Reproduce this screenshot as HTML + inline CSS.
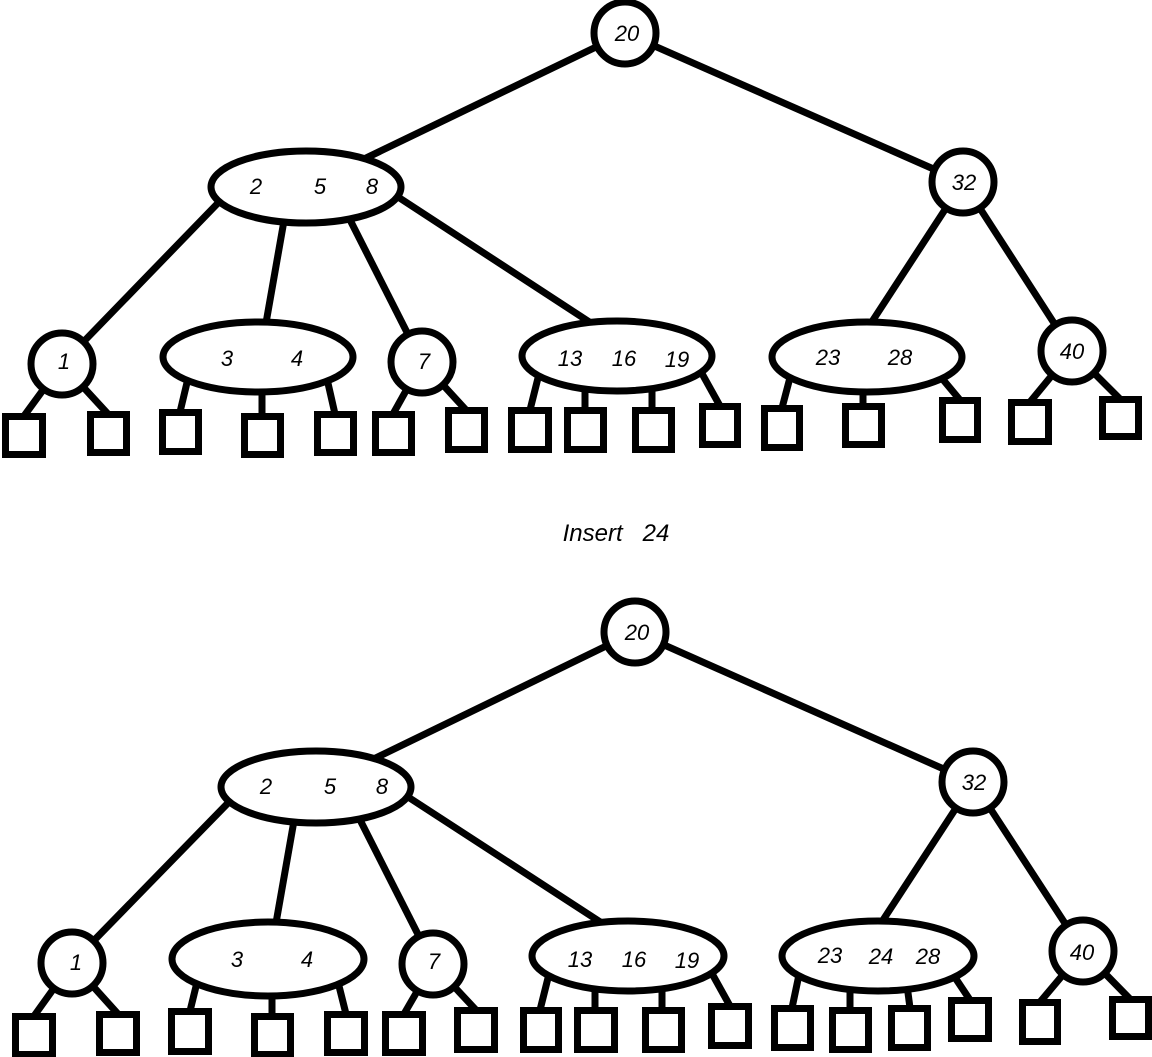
<!DOCTYPE html>
<html><head><meta charset="utf-8"><style>
html,body{margin:0;padding:0;background:#fff;}
svg{display:block;}
text{font-family:"Liberation Sans",sans-serif;font-style:italic;font-size:22px;fill:#000;text-anchor:middle;}
</style></head><body>
<svg width="1152" height="1057" viewBox="0 0 1152 1057" xmlns="http://www.w3.org/2000/svg">
<g stroke="#000" stroke-width="7" fill="none" stroke-linecap="butt">
<!-- TOP TREE edges -->
<line x1="625" y1="33" x2="306" y2="187"/>
<line x1="625" y1="33" x2="963" y2="182"/>
<line x1="218" y1="203" x2="62" y2="364"/>
<line x1="285" y1="215" x2="263" y2="340"/>
<line x1="345" y1="210" x2="422" y2="362"/>
<line x1="395" y1="195" x2="617" y2="340"/>
<line x1="963" y1="182" x2="860" y2="340"/>
<line x1="963" y1="182" x2="1072" y2="351"/>
<!-- top stubs -->
<line x1="62" y1="364" x2="24" y2="416"/>
<line x1="62" y1="364" x2="108" y2="414"/>
<line x1="190" y1="370" x2="180" y2="412"/>
<line x1="262" y1="370" x2="262" y2="416"/>
<line x1="325" y1="370" x2="335" y2="414"/>
<line x1="422" y1="362" x2="393" y2="414"/>
<line x1="422" y1="362" x2="466" y2="410"/>
<line x1="540" y1="370" x2="530" y2="410"/>
<line x1="585" y1="370" x2="585" y2="410"/>
<line x1="652" y1="370" x2="652" y2="410"/>
<line x1="700" y1="370" x2="720" y2="406"/>
<line x1="792" y1="370" x2="782" y2="408"/>
<line x1="863" y1="370" x2="863" y2="406"/>
<line x1="935" y1="370" x2="960" y2="400"/>
<line x1="1072" y1="351" x2="1030" y2="402"/>
<line x1="1072" y1="351" x2="1120" y2="399"/>
<!-- BOTTOM TREE edges -->
<line x1="635" y1="632" x2="316" y2="787"/>
<line x1="635" y1="632" x2="973" y2="782"/>
<line x1="228" y1="803" x2="72" y2="963"/>
<line x1="295" y1="815" x2="273" y2="940"/>
<line x1="355" y1="810" x2="433" y2="964"/>
<line x1="405" y1="795" x2="628" y2="940"/>
<line x1="973" y1="782" x2="870" y2="940"/>
<line x1="973" y1="782" x2="1083" y2="951"/>
<!-- bottom stubs -->
<line x1="72" y1="963" x2="34" y2="1016"/>
<line x1="72" y1="963" x2="118" y2="1014"/>
<line x1="200" y1="970" x2="190" y2="1011"/>
<line x1="272" y1="970" x2="272" y2="1016"/>
<line x1="335" y1="970" x2="346" y2="1014"/>
<line x1="433" y1="964" x2="404" y2="1014"/>
<line x1="433" y1="964" x2="476" y2="1010"/>
<line x1="550" y1="970" x2="540" y2="1010"/>
<line x1="595" y1="970" x2="595" y2="1010"/>
<line x1="662" y1="970" x2="662" y2="1010"/>
<line x1="710" y1="970" x2="730" y2="1006"/>
<line x1="800" y1="970" x2="792" y2="1008"/>
<line x1="850" y1="970" x2="850" y2="1010"/>
<line x1="905" y1="970" x2="910" y2="1008"/>
<line x1="950" y1="970" x2="970" y2="1000"/>
<line x1="1083" y1="951" x2="1040" y2="1002"/>
<line x1="1083" y1="951" x2="1130" y2="999"/>
</g>
<g stroke="#000" stroke-width="7" fill="#fff">
<!-- top nodes -->
<circle cx="625" cy="33" r="31"/>
<ellipse cx="306" cy="187" rx="95" ry="36"/>
<circle cx="963" cy="182" r="31"/>
<circle cx="62" cy="364" r="31"/>
<ellipse cx="258" cy="357" rx="95" ry="35"/>
<circle cx="422" cy="362" r="31"/>
<ellipse cx="617" cy="356" rx="95" ry="35"/>
<ellipse cx="867" cy="357" rx="95" ry="35"/>
<circle cx="1072" cy="351" r="31"/>
<!-- top squares -->
<rect x="5.5" y="416.5" width="37" height="38"/>
<rect x="90.5" y="414.5" width="36" height="38"/>
<rect x="162.5" y="412.5" width="36" height="39"/>
<rect x="244.5" y="416.5" width="36" height="38"/>
<rect x="317.5" y="414.5" width="36" height="38"/>
<rect x="375.5" y="414.5" width="36" height="38"/>
<rect x="448.5" y="410.5" width="36" height="39"/>
<rect x="511.5" y="410.5" width="37" height="39"/>
<rect x="567.5" y="410.5" width="36" height="39"/>
<rect x="635.5" y="410.5" width="36" height="39"/>
<rect x="702.5" y="406.5" width="35" height="38"/>
<rect x="764.5" y="408.5" width="35" height="39"/>
<rect x="845.5" y="406.5" width="36" height="38"/>
<rect x="942.5" y="400.5" width="35" height="39"/>
<rect x="1011.5" y="402.5" width="37" height="39"/>
<rect x="1102.5" y="399.5" width="36" height="37"/>
<!-- bottom nodes -->
<circle cx="635" cy="632" r="31"/>
<ellipse cx="316" cy="787" rx="95" ry="36"/>
<circle cx="973" cy="782" r="31"/>
<circle cx="72" cy="963" r="31"/>
<ellipse cx="268" cy="959" rx="96" ry="37"/>
<circle cx="433" cy="964" r="31"/>
<ellipse cx="628" cy="956" rx="96" ry="35"/>
<ellipse cx="878" cy="956" rx="96" ry="35"/>
<circle cx="1083" cy="951" r="31"/>
<!-- bottom squares -->
<rect x="15.5" y="1016.5" width="37" height="38"/>
<rect x="99.5" y="1014.5" width="37" height="38"/>
<rect x="171.5" y="1011.5" width="37" height="40"/>
<rect x="254.5" y="1016.5" width="36" height="38"/>
<rect x="327.5" y="1014.5" width="37" height="38"/>
<rect x="385.5" y="1014.5" width="37" height="38"/>
<rect x="457.5" y="1010.5" width="37" height="39"/>
<rect x="523.5" y="1010.5" width="35" height="39"/>
<rect x="577.5" y="1010.5" width="37" height="39"/>
<rect x="645.5" y="1010.5" width="36" height="39"/>
<rect x="711.5" y="1006.5" width="37" height="39"/>
<rect x="774.5" y="1008.5" width="36" height="39"/>
<rect x="832.5" y="1010.5" width="36" height="39"/>
<rect x="891.5" y="1008.5" width="36" height="39"/>
<rect x="951.5" y="1000.5" width="37" height="38"/>
<rect x="1022.5" y="1002.5" width="35" height="39"/>
<rect x="1112.5" y="999.5" width="36" height="37"/>
</g>
<!-- top labels -->
<text x="627" y="41">20</text>
<text x="256" y="194">2</text><text x="320" y="194">5</text><text x="372" y="194">8</text>
<text x="964" y="190">32</text>
<text x="64" y="369">1</text>
<text x="227" y="366">3</text><text x="297" y="366">4</text>
<text x="424" y="369">7</text>
<text x="570" y="366">13</text><text x="624" y="366">16</text><text x="677" y="367">19</text>
<text x="828" y="365">23</text><text x="900" y="365">28</text>
<text x="1072" y="359">40</text>
<text x="616" y="541" style="font-size:24px">Insert&#160;&#160;&#160;24</text>
<!-- bottom labels -->
<text x="637" y="640">20</text>
<text x="266" y="794">2</text><text x="330" y="794">5</text><text x="382" y="794">8</text>
<text x="974" y="790">32</text>
<text x="76" y="970">1</text>
<text x="237" y="967">3</text><text x="307" y="967">4</text>
<text x="434" y="969">7</text>
<text x="580" y="967">13</text><text x="634" y="967">16</text><text x="687" y="968">19</text>
<text x="830" y="963">23</text><text x="881" y="964">24</text><text x="928" y="964">28</text>
<text x="1082" y="960">40</text>
</svg>
</body></html>
